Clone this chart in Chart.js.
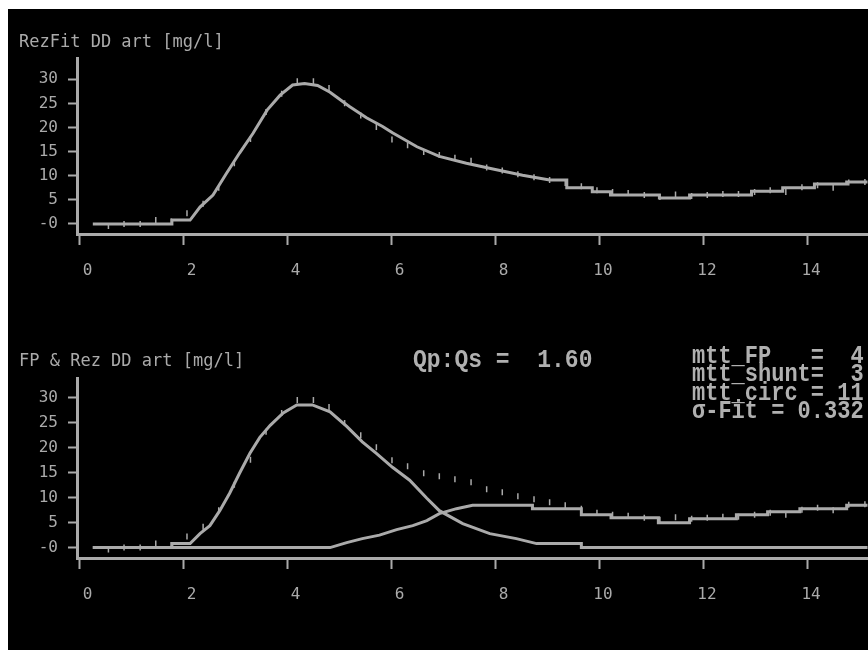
<!DOCTYPE html>
<html>
<head>
<meta charset="utf-8">
<script src="https://cdn.jsdelivr.net/npm/chart.js@4"></script>
<style>
    body { margin: 0; background: #ffffff; width: 868px; height: 650px; overflow: hidden; position: relative; }
    #tela { position: absolute; left: 8px; top: 9px; width: 860px; height: 641px; background: #000000; }
    canvas { position: absolute; left: 0; }
    .titulo { position: absolute; left: 19px; font: 17px "DejaVu Sans Mono"; line-height: 17px; color: #aaaaaa; white-space: pre; }
    .valores { position: absolute; font: bold 23px "Liberation Mono"; color: #b0b0b0; white-space: pre; transform: scaleY(1.15); transform-origin: top left; }
</style>
</head>
<body>
<div id="tela"></div>
<canvas id="graficoFit" width="873" height="300" style="top:0px"></canvas>
<canvas id="graficoFP" width="873" height="350" style="top:300px"></canvas>
<div class="titulo" style="top:33px">RezFit DD art [mg/l]</div>
<div class="titulo" style="top:352px">FP &amp; Rez DD art [mg/l]</div>
<div class="valores" style="left:413px; top:347px; line-height:23px">Qp:Qs =  1.60</div>
<div class="valores" style="left:692px; top:348px; line-height:16px; font-size:22px">mtt_FP   =  4
mtt_shunt=  3
mtt_circ = 11
σ-Fit = 0.332</div>

<script>
// eixos
const ticksX = [0, 2, 4, 6, 8, 10, 12, 14];
const ticksY = [0, 5, 10, 15, 20, 25, 30];

// curva ajustada (RezFit) - grafico de cima
const tFit = [0.26, 1.78, 1.78, 2.13, 2.32, 2.57, 2.83, 3.08, 3.34, 3.61, 3.86, 4.10, 4.33, 4.58, 4.82,
    5.20, 5.52, 5.83, 6.02, 6.49, 6.92, 7.44, 7.95, 8.52, 9.04, 9.37, 9.37, 9.86, 9.86, 10.21, 10.21,
    11.15, 11.15, 11.73, 11.73, 12.92, 12.92, 13.52, 13.52, 14.13, 14.13, 14.75, 14.75, 15.2];
const vFit = [0, 0, 0.8, 0.8, 3.5, 6, 10.5, 14.7, 18.8, 23.6, 26.7, 28.8, 29.1, 28.7, 27.3,
    24.3, 22.0, 20.2, 18.9, 16.0, 14.0, 12.6, 11.4, 10.1, 9.1, 9.1, 7.5, 7.5, 6.7, 6.7, 6.0,
    6.0, 5.4, 5.4, 6.0, 6.0, 6.8, 6.8, 7.5, 7.5, 8.3, 8.3, 8.7, 8.7];

// pontos medidos
const tMedido = [0.56, 0.86, 1.17, 1.47, 1.77, 2.07, 2.38, 2.68, 2.98, 3.29, 3.59, 3.89, 4.19, 4.50, 4.80,
    5.10, 5.41, 5.71, 6.01, 6.31, 6.62, 6.92, 7.22, 7.53, 7.83, 8.13, 8.43, 8.74, 9.04, 9.34, 9.65,
    9.95, 10.25, 10.55, 10.86, 11.16, 11.46, 11.77, 12.07, 12.37, 12.67, 12.98, 13.28, 13.58, 13.89,
    14.19, 14.49, 14.79, 15.10];
const vMedido = [-0.4, 0, 0, 0.8, 0.5, 2.2, 4.2, 7.5, 12.6, 17.6, 23.2, 27.0, 29.6, 29.6, 28.2,
    25.0, 22.5, 20.1, 17.5, 16.3, 14.9, 14.3, 13.7, 13.1, 11.7, 11.1, 10.3, 9.7, 9.1, 8.5, 7.8,
    7.0, 6.6, 6.4, 6.0, 5.6, 6.1, 5.8, 6.0, 6.2, 6.2, 6.6, 7.0, 6.6, 7.6, 8.0, 7.5, 8.6, 8.7];

// primeira passagem (FP) - grafico de baixo
const tFP = [0.26, 1.78, 1.78, 2.13, 2.32, 2.51, 2.70, 2.89, 3.08, 3.28, 3.47, 3.67, 3.92, 4.18, 4.48,
    4.82, 5.14, 5.44, 5.71, 6.02, 6.35, 6.68, 6.92, 7.37, 7.89, 8.40, 8.79, 9.65, 9.65, 15.2];
const vFP = [0, 0, 0.8, 0.8, 2.8, 4.4, 7.4, 10.9, 14.9, 18.9, 22.1, 24.5, 27.0, 28.6, 28.6,
    27.2, 24.3, 21.2, 18.9, 16.1, 13.5, 9.9, 7.4, 4.8, 2.8, 1.8, 0.8, 0.8, 0, 0];

// recirculacao (Rez) - grafico de baixo
const tRez = [0.26, 4.82, 5.14, 5.44, 5.77, 6.10, 6.41, 6.68, 6.92, 7.25, 7.56, 8.71, 8.71, 9.65, 9.65,
    10.22, 10.22, 11.13, 11.13, 11.73, 11.73, 12.63, 12.63, 13.23, 13.23, 13.85, 13.85, 14.75, 14.75, 15.2];
const vRez = [0, 0, 1.0, 1.8, 2.5, 3.6, 4.4, 5.4, 6.8, 7.8, 8.5, 8.5, 7.8, 7.8, 6.6,
    6.6, 6.0, 6.0, 5.0, 5.0, 5.8, 5.8, 6.6, 6.6, 7.2, 7.2, 7.8, 7.8, 8.5, 8.5];

const cinza = '#aaaaaa';

function pontos(ts, vs) {
    return ts.map((t, i) => ({ x: t, y: vs[i] }));
}

function curva(ts, vs) {
    return {
        data: pontos(ts, vs),
        borderColor: cinza,
        borderWidth: 3,
        pointRadius: 0,
        tension: 0
    };
}

function medidos() {
    return {
        data: pontos(tMedido, vMedido),
        showLine: false,
        pointStyle: 'line',
        pointRotation: 90,
        pointRadius: 3,
        pointBorderWidth: 1.5,
        pointBorderColor: cinza
    };
}

function criarGrafico(id, datasets, topo, alturaX, yMin, yMax) {
    const ctx = document.getElementById(id).getContext('2d');
    return new Chart(ctx, {
        type: 'line',
        data: { datasets: datasets },
        options: {
            responsive: false,
            animation: false,
            layout: { padding: { top: topo, left: 0, right: 0, bottom: 0 } },
            plugins: { legend: { display: false }, tooltip: { enabled: false } },
            scales: {
                x: {
                    type: 'linear',
                    min: -0.044,
                    max: 15.15,
                    afterBuildTicks: scale => { scale.ticks = ticksX.map(v => ({ value: v })); },
                    afterFit: scale => { scale.height = alturaX; },
                    border: { display: true, color: cinza, width: 3 },
                    grid: { drawOnChartArea: false, drawTicks: true, tickLength: 11, tickColor: cinza, tickWidth: 2 },
                    ticks: {
                        color: cinza,
                        font: { family: 'DejaVu Sans Mono', size: 16 },
                        padding: 16,
                        align: 'end',
                        labelOffset: 13,
                        maxRotation: 0,
                        callback: v => String(v)
                    }
                },
                y: {
                    min: yMin,
                    max: yMax,
                    afterBuildTicks: scale => { scale.ticks = ticksY.map(v => ({ value: v })); },
                    afterFit: scale => { scale.width = 77; },
                    border: { display: true, color: cinza, width: 3 },
                    grid: { drawOnChartArea: false, drawTicks: true, tickLength: 9, tickColor: cinza, tickWidth: 2 },
                    ticks: {
                        color: cinza,
                        font: { family: 'DejaVu Sans Mono', size: 16 },
                        padding: 10,
                        callback: v => (v === 0 ? '-0' : String(v))
                    }
                }
            }
        }
    });
}

window.onload = function () {
    criarGrafico('graficoFit', [curva(tFit, vFit), medidos()], 58, 66, -2.08, 34.4);
    criarGrafico('graficoFP', [curva(tFP, vFP), curva(tRez, vRez), medidos()], 78, 92, -2.09, 34.0);
};
</script>
</body>
</html>
